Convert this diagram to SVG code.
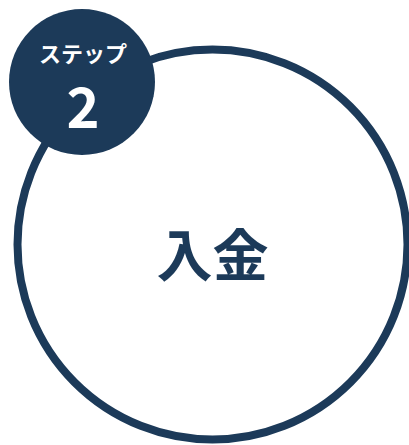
<svg xmlns="http://www.w3.org/2000/svg" width="409" height="445" viewBox="0 0 409 445">
  <style>
    .navy { fill: #1c3a59; }
    .ring { fill: #ffffff; stroke: #1c3a59; stroke-width: 8; }
    .badge-text { fill: #ffffff; font-family: "Noto Sans CJK JP", "Noto Sans", sans-serif; font-weight: 700; text-anchor: middle; }
    .main-text { fill: #1c3a59; font-family: "Noto Sans CJK JP", sans-serif; font-weight: 700; text-anchor: middle; }
  </style>
  <rect width="409" height="445" fill="#ffffff"/>
  <g id="main-circle">
    <circle class="ring" cx="212.5" cy="244.5" r="195"/>
    <text class="main-text" x="212.5" y="251" font-size="56" dominant-baseline="central">入金</text>
  </g>
  <g id="step-badge">
    <circle class="navy" cx="82" cy="82" r="73"/>
    <text class="badge-text" x="83" y="62" font-size="22">ステップ</text>
    <text class="badge-text" x="83" y="128" font-size="56" font-family="Roboto, 'Noto Sans', sans-serif">2</text>
  </g>
</svg>
